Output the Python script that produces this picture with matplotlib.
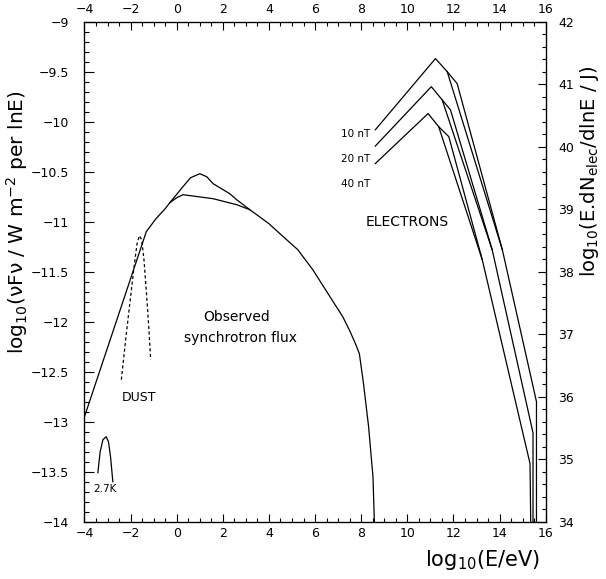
import matplotlib
matplotlib.use('Agg')
import matplotlib.pyplot as plt
from matplotlib.ticker import MultipleLocator, FuncFormatter


# ----------------------------------------------------------------
# data

# observed synchrotron flux (left axis), upper branch, full curve
sync_x = [-4.0, -1.32, -0.9, -0.5, -0.3, 0.27, 0.6, 1.0, 1.3, 1.58, 2.3, 2.6, 3.17,
          4.0, 4.62, 5.25, 5.9, 6.7, 7.2, 7.52, 7.75, 7.92, 8.1, 8.32, 8.51, 8.57]
sync_y = [-12.95, -11.10, -10.97, -10.87, -10.81, -10.65, -10.56, -10.52, -10.55, -10.62, -10.72,
          -10.78, -10.88, -11.02, -11.15, -11.28, -11.48, -11.77, -11.95, -12.10, -12.22,
          -12.32, -12.62, -13.05, -13.55, -14.0]

# lower branch of the synchrotron curve
sync_low_x = [-0.3, 0.0, 0.27, 0.6, 1.58, 2.6, 3.17]
sync_low_y = [-10.81, -10.76, -10.73, -10.74, -10.77, -10.83, -10.88]

# dust bump (dashed)
dust_x = [-2.4, -2.2, -2.0, -1.85, -1.72, -1.62, -1.52, -1.42, -1.3, -1.2, -1.13]
dust_y = [-12.58, -12.15, -11.75, -11.45, -11.22, -11.14, -11.18, -11.38, -11.75, -12.1, -12.38]

# 2.7 K background
cmb_x = [-3.42, -3.32, -3.2, -3.06, -2.96, -2.87, -2.77]
cmb_y = [-13.51, -13.3, -13.18, -13.15, -13.2, -13.35, -13.6]

# electron spectra (right axis)
b_labels = ['10 nT', '20 nT', '40 nT']
elec_x = [[8.61, 11.22, 11.73, 12.16, 14.12, 15.60, 15.60],
          [8.61, 11.04, 11.51, 11.87, 13.68, 15.45, 15.45],
          [8.61, 10.90, 11.36, 11.80, 13.25, 15.32, 15.35]]
elec_y = [[40.27, 41.41, 41.20, 41.01, 38.35, 35.92, 34.0],
          [40.01, 40.96, 40.75, 40.59, 38.35, 35.42, 34.0],
          [39.73, 40.53, 40.32, 40.16, 38.19, 34.93, 34.0]]

# second branch leaving each peak, rejoining lower down
elec_in_x = [[11.73, 14.12], [11.51, 13.68], [11.36, 13.25]]
elec_in_y = [[41.20, 38.35], [40.75, 38.35], [40.32, 38.19]]


# ----------------------------------------------------------------

def fmt(v, _):
    return ('%g' % v).replace('-', '\u2212')


def setup_axes(fig):
    ax = fig.add_axes([0.1394, 0.0990, 0.7611, 0.8635])
    ax.set_xlim(-4, 16)
    ax.set_ylim(-14, -9)
    ax.xaxis.set_major_locator(MultipleLocator(2))
    ax.xaxis.set_minor_locator(MultipleLocator(0.5))
    ax.yaxis.set_major_locator(MultipleLocator(0.5))
    ax.yaxis.set_minor_locator(MultipleLocator(0.1))
    ax.xaxis.set_major_formatter(FuncFormatter(fmt))
    ax.yaxis.set_major_formatter(FuncFormatter(fmt))
    ax.tick_params(axis='x', which='both', direction='in', top=True, labeltop=True,
                   labelsize=9, pad=4, width=0.8)
    ax.tick_params(axis='x', which='major', length=6)
    ax.tick_params(axis='x', which='minor', length=3)
    ax.tick_params(axis='y', which='both', direction='in', right=False,
                   labelsize=9, pad=11, width=0.8)
    ax.tick_params(axis='y', which='major', length=7)
    ax.tick_params(axis='y', which='minor', length=3.5)
    for s in ax.spines.values():
        s.set_linewidth(0.9)

    ax2 = ax.twinx()
    ax2.set_ylim(34, 42)
    ax2.yaxis.set_major_locator(MultipleLocator(1))
    ax2.yaxis.set_minor_locator(MultipleLocator(0.2))
    ax2.yaxis.set_major_formatter(FuncFormatter(fmt))
    ax2.tick_params(axis='y', which='both', direction='in', labelsize=9, pad=9, width=0.8)
    ax2.tick_params(axis='y', which='major', length=6)
    ax2.tick_params(axis='y', which='minor', length=3)

    ax.set_ylabel(r'log$_{10}$($\nu$F$\nu$ / W m$^{-2}$ per lnE)', fontsize=14.5,
                  va='center')
    ax.yaxis.set_label_coords(-0.147, 0.60)
    ax2.set_ylabel(r'log$_{10}$(E.dN$_{elec}$/dlnE / J)', fontsize=14, va='center')
    ax2.yaxis.set_label_coords(1.095, 0.70)
    ax.set_xlabel(r'log$_{10}$(E/eV)', fontsize=15, va='center')
    ax.xaxis.set_label_coords(0.864, -0.077)
    return ax, ax2


def plot_all():
    plt.rcParams['mathtext.default'] = 'regular'
    fig = plt.figure(figsize=(6.06, 5.79), dpi=100)
    ax, ax2 = setup_axes(fig)

    lw = 0.9
    ax.plot(sync_x, sync_y, color='k', lw=lw)
    ax.plot(sync_low_x, sync_low_y, color='k', lw=lw)
    ax.plot(dust_x, dust_y, color='k', lw=lw, dashes=(2.5, 2))
    ax.plot(cmb_x, cmb_y, color='k', lw=lw)

    for i in range(len(b_labels)):
        ax2.plot(elec_x[i], elec_y[i], color='k', lw=lw)
        ax2.plot(elec_in_x[i], elec_in_y[i], color='k', lw=lw)

    ax.text(2.6, -11.95, 'Observed', ha='center', va='center', fontsize=10)
    ax.text(2.75, -12.16, 'synchrotron flux', ha='center', va='center', fontsize=10)
    ax.text(-1.65, -12.76, 'DUST', ha='center', va='center', fontsize=9)
    ax.text(-3.1, -13.67, '2.7K', ha='center', va='center', fontsize=7.5)
    ax.text(9.98, -11.0, 'ELECTRONS', ha='center', va='center', fontsize=10)
    for lab, yy in zip(b_labels, [-10.12, -10.37, -10.62]):
        ax.text(8.39, yy, lab, ha='right', va='center', fontsize=7.5)

    fig.savefig('out.png', dpi=100)


if __name__ == '__main__':
    plot_all()
